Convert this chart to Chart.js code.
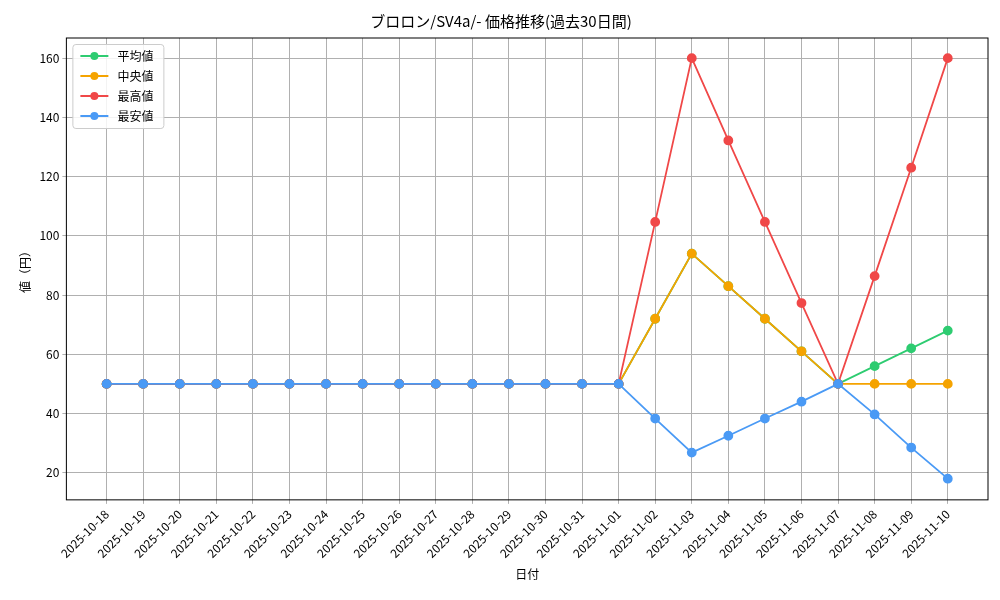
<!DOCTYPE html>
<html><head><meta charset="utf-8">
<script src="https://cdn.jsdelivr.net/npm/chart.js@4.4.0/dist/chart.umd.min.js"></script>
<style>body{margin:0;background:#fff}#w{width:1000px;height:600px}</style>
</head><body><div id="w"><canvas id="c"></canvas></div>
<script>
const dates = ["2025-10-18","2025-10-19","2025-10-20","2025-10-21","2025-10-22","2025-10-23","2025-10-24","2025-10-25","2025-10-26","2025-10-27","2025-10-28","2025-10-29","2025-10-30","2025-10-31","2025-11-01","2025-11-02","2025-11-03","2025-11-04","2025-11-05","2025-11-06","2025-11-07","2025-11-08","2025-11-09","2025-11-10"];
const flat = [50,50,50,50,50,50,50,50,50,50,50,50,50,50,50];
const meanVals = flat.concat([72,94,83,72,61,50,56,62,68]);
const medianVals = flat.concat([72,94,83,72,61,50,50,50,50]);
const maxVals = flat.concat([104.7,160,132.2,104.7,77.3,50,86.4,123,160]);
const minVals = flat.concat([38.3,26.8,32.5,38.3,44,50,39.7,28.5,18]);
const yTicks = [20,40,60,80,100,120,140,160];
const F = "'Noto Sans CJK JP', 'DejaVu Sans', sans-serif";
const mk = (label, vals, color, order) => ({label, order, data: vals.map((v,i)=>({x:i,y:v})), borderColor: color, backgroundColor: color, borderWidth: 1.8, pointRadius: 4, pointHoverRadius: 4, tension: 0});
const legendPlugin = {id:'lg', afterDraw(ch){
  const c=ch.ctx, a=ch.chartArea; const x0=a.left+6, y0=a.top+6;
  c.save(); c.fillStyle='rgba(255,255,255,0.85)'; c.strokeStyle='#ccc'; c.lineWidth=1;
  c.beginPath(); c.roundRect(x0+0.5,y0+0.5,91,84,3); c.fill(); c.stroke();
  c.font="12px "+F; c.textBaseline='middle';
  ch.data.datasets.forEach((d,i)=>{const y=y0+12+i*20;
    c.strokeStyle=d.borderColor; c.lineWidth=2; c.beginPath(); c.moveTo(x0+8,y); c.lineTo(x0+36,y); c.stroke();
    c.fillStyle=d.borderColor; c.beginPath(); c.arc(x0+22,y,4,0,7); c.fill();
    c.fillStyle='#000'; c.fillText(d.label,x0+45,y);});
  c.restore();}};
const boxPlugin = {id:'bx', afterDraw(ch){const c=ch.ctx,a=ch.chartArea;c.save();c.strokeStyle='#000';c.lineWidth=1;c.strokeRect(a.left,a.top,a.right-a.left,a.bottom-a.top);c.restore();}};
new Chart(document.getElementById('c'), {
  type:'line',
  data:{datasets:[mk('平均値',meanVals,'#2ecc71',4),mk('中央値',medianVals,'#f5a300',3),mk('最高値',maxVals,'#f04848',2),mk('最安値',minVals,'#4a9af5',1)]},
  options:{responsive:true,maintainAspectRatio:false,animation:false,
    layout:{padding:{left:14,right:12,top:4,bottom:14}},
    plugins:{legend:{display:false},tooltip:{enabled:false},
      title:{display:true,text:'ブロロン/SV4a/- 価格推移(過去30日間)',font:{family:F,size:15,weight:'normal'},color:'#000',padding:{top:8,bottom:8}}},
    scales:{
      x:{type:'linear',min:-1.1,max:24.1,
        afterBuildTicks(ax){ax.ticks=dates.map((d,i)=>({value:i}));},
        ticks:{callback:(v)=>dates[v],minRotation:45,maxRotation:45,autoSkip:false,color:'#000',font:{family:F,size:12}},
        grid:{color:'#b0b0b0',drawTicks:true,tickLength:4},border:{display:false},
        title:{display:true,text:'日付',color:'#000',font:{family:F,size:12}}},
      y:{min:10.85,max:166.8,
        afterBuildTicks(ax){ax.ticks=yTicks.map(v=>({value:v}));},
        ticks:{color:'#000',font:{family:F,size:12}},
        grid:{color:'#b0b0b0',tickLength:4},border:{display:false},
        title:{display:true,text:'値（円）',color:'#000',font:{family:F,size:12}}}
    }},
  plugins:[legendPlugin,boxPlugin]
});
</script></body></html>
